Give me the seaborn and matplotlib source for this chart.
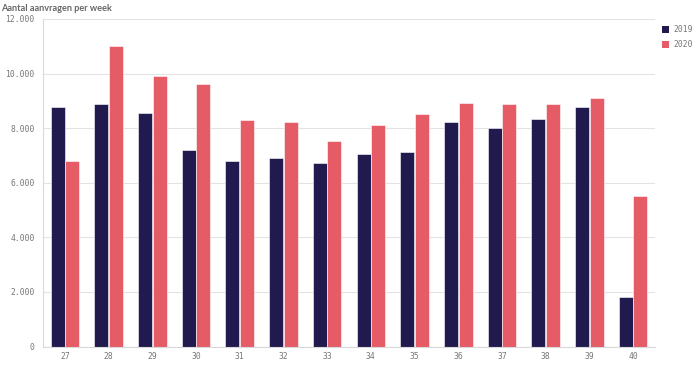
import matplotlib
matplotlib.use("Agg")
from matplotlib import pyplot as plt
from matplotlib.ticker import FuncFormatter
from matplotlib.patches import Patch
import pandas as pd
import seaborn as sns

weeks = ['27', '28', '29', '30', '31', '32', '33', '34', '35', '36', '37', '38', '39', '40']
aanvragen_2019 = [8780, 8900, 8540, 7200, 6780, 6900, 6730, 7070, 7140, 8240, 8010, 8350, 8780, 1830]
aanvragen_2020 = [6790, 11020, 9920, 9610, 8290, 8220, 7520, 8120, 8520, 8920, 8870, 8900, 9090, 5530]
years = ['2019', '2020']
colors = ['#211a4f', '#e55c67']

df = pd.DataFrame({
    'week': weeks * 2,
    'jaar': [years[0]] * len(weeks) + [years[1]] * len(weeks),
    'aantal': aanvragen_2019 + aanvragen_2020,
})

sns.set_style("white")
fig = plt.figure(figsize=(6.96, 3.65), dpi=100)
ax = fig.add_axes([43 / 696, 1 - 346.5 / 365, (655 - 43) / 696, (346.5 - 19) / 365])

sns.barplot(data=df, x='week', y='aantal', hue='jaar', palette=colors, saturation=1,
            width=0.67, gap=0.04, edgecolor='#ffffff', linewidth=0.4,
            legend=False, ax=ax)

ax.set_xlim(-0.5, len(weeks) - 0.5)
ax.set_ylim(0, 12000)
ax.set_yticks(range(0, 12001, 2000))
ax.yaxis.set_major_formatter(FuncFormatter(lambda v, p: f"{int(v):,}".replace(',', '.')))
ax.grid(axis='y', color='#e3e3e3', linewidth=0.8)
ax.set_axisbelow(True)
ax.set_xlabel('')
ax.set_ylabel('')

for s in ['top', 'right']:
    ax.spines[s].set_visible(False)
for s in ['left', 'bottom']:
    ax.spines[s].set_color('#d9d9d9')
    ax.spines[s].set_linewidth(0.8)

ax.tick_params(axis='y', length=4, color='#d9d9d9', pad=2, labelsize=5.8, labelcolor='#777777')
ax.tick_params(axis='x', length=0, pad=4, labelsize=5.8, labelcolor='#777777')
for lab in ax.get_xticklabels() + ax.get_yticklabels():
    lab.set_family('DejaVu Sans Mono')

handles = [Patch(facecolor=c, edgecolor='none') for c in colors]
leg = fig.legend(handles, years, loc='upper left', bbox_to_anchor=(655 / 696, 1 - 18 / 365),
                 frameon=False, handlelength=0.8, handleheight=0.8, handletextpad=0.6,
                 labelspacing=0.75, prop={'family': 'DejaVu Sans Mono', 'size': 5.8})
for t in leg.get_texts():
    t.set_color('#777777')

fig.text(0.002, 0.988, 'Aantal aanvragen per week', ha='left', va='top',
         fontsize=6.6, fontweight='bold', color='#666666', family='Lato')

fig.savefig('out.png', dpi=100)
